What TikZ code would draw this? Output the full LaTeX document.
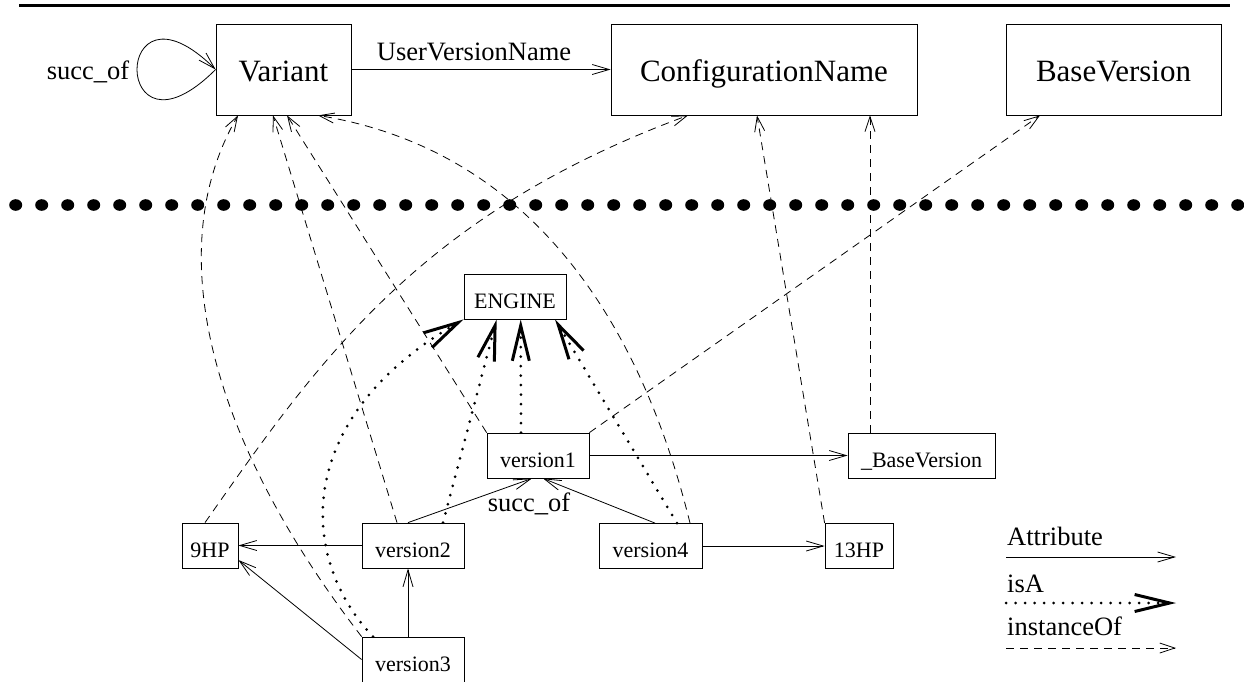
\documentclass[tikz,border=0pt]{standalone}
\usepackage{fontspec}
\setmainfont{Liberation Serif}
\usetikzlibrary{arrows.meta}

\begin{document}
\begin{tikzpicture}[
                x=1pt, y=-1pt, % pixel grid, y runs downwards
                bigbox/.style={rectangle, draw, line width=0.8pt, inner sep=0pt, minimum height=91pt, text height=24pt, text depth=0pt, font=\fontsize{31}{36}\selectfont},
                smallbox/.style={rectangle, draw, line width=0.8pt, inner sep=0pt, minimum height=45pt, text height=23pt, text depth=0pt, font=\fontsize{22}{26}\selectfont},
                lbl/.style={inner sep=0pt, font=\fontsize{26.5}{30}\selectfont},
                attr/.style={draw, line width=0.8pt, -{Straight Barb[length=17pt, width=10pt]}},
                isa/.style={draw, line width=3pt, line cap=round, dash pattern=on 0pt off 9.5pt, -{Straight Barb[length=35pt, width=17pt, line width=3pt]}},
                inst/.style={draw, line width=0.8pt, dash pattern=on 8pt off 6pt, -{Straight Barb[length=15pt, width=10pt]}}
            ]
                \useasboundingbox (0,0) rectangle (1244,681);

                % Rule and separator
                \draw [line width=3pt] (19,5) -- (1230,5);
                \foreach \i in {0,...,47}
                    \fill (15.7+26*\i,205) ellipse [x radius=6.5pt, y radius=5.8pt];

                % Place nodes: schema level
                \node [bigbox, minimum width=135pt] (S_var) at (283.5,69.5) {Variant};
                \node [bigbox, minimum width=306pt] (S_cfg) at (764,69.5) {ConfigurationName};
                \node [bigbox, minimum width=215pt] (S_base) at (1113.5,69.5) {BaseVersion};

                % Place nodes: instance level
                \node [smallbox, minimum width=102pt] (I_engine) at (515,296.5) {ENGINE};
                \node [smallbox, minimum width=102pt] (I_v1) at (538,455.5) {version1};
                \node [smallbox, minimum width=147pt] (I_bv) at (921.5,455.5) {\_BaseVersion};
                \node [smallbox, minimum width=56pt] (I_9hp) at (210,545.5) {9HP};
                \node [smallbox, minimum width=102pt] (I_v2) at (413,545.5) {version2};
                \node [smallbox, minimum width=102pt] (I_v3) at (413,659.5) {version3};
                \node [smallbox, minimum width=103pt] (I_v4) at (650.5,546) {version4};
                \node [smallbox, minimum width=68pt] (I_13hp) at (859,546) {13HP};

                % Labels
                \node [lbl, anchor=base] (L_loop) at (88,79) {succ\_of};
                \node [lbl, anchor=base] (L_uvn) at (474,60) {UserVersionName};
                \node [lbl, anchor=base] (L_succ) at (529,511) {succ\_of};

                % Draw edges: attributes
                \path [attr] (S_var.west) .. controls (111,174) and (111,-34) .. (S_var.west);
                \path [attr] (S_var.east) -- (S_cfg.west);
                \path [attr] (I_v1.east) -- (I_bv.west);
                \path [attr] ([xshift=-5pt]I_v2.north) -- ([xshift=-6pt]I_v1.south);
                \path [attr] ([xshift=4.5pt]I_v4.north) -- ([xshift=5pt]I_v1.south);
                \path [attr] (I_v2.west) -- (I_9hp.east);
                \path [attr] (I_v3.west) -- ([yshift=-14.5pt]I_9hp.east);
                \path [attr] ([xshift=-5pt]I_v3.north) -- ([xshift=-5pt]I_v2.south);
                \path [attr] (I_v4.east) -- (I_13hp.west);

                % Draw edges: isA
                \path [isa] ([xshift=-17pt]I_v1.north) -- ([xshift=5.7pt]I_engine.south);
                \path [isa] ([xshift=30pt]I_v2.north) -- ([xshift=-18.3pt]I_engine.south);
                \path [isa] ([xshift=-40pt]I_v3.north) .. controls (300,560) and (290,420) .. (I_engine.south west);
                \path [isa] ([xshift=26.5pt]I_v4.north) -- ([xshift=40pt]I_engine.south);

                % Draw edges: instanceOf
                \path [inst] (I_v3.north west) .. controls (210,440) and (160,250) .. ([xshift=-45.5pt]S_var.south);
                \path [inst] ([xshift=-16pt]I_v2.north) -- ([xshift=-10.5pt]S_var.south);
                \path [inst] (I_v1.north west) -- ([xshift=3.5pt]S_var.south);
                \path [inst] ([xshift=39.5pt]I_v4.north) .. controls (640,320) and (530,150) .. ([xshift=34.5pt]S_var.south);
                \path [inst] ([xshift=-5pt]I_9hp.north) .. controls (317,363) and (418,215) .. ([xshift=-76pt]S_cfg.south);
                \path [inst] (I_v1.north east) -- ([xshift=-73.5pt]S_base.south);
                \path [inst] ([xshift=-51.5pt]I_bv.north) -- ([xshift=106pt]S_cfg.south);
                \path [inst] (I_13hp.north west) -- ([xshift=-7pt]S_cfg.south);

                % Legend
                \node [lbl, anchor=base west] (K_attr) at (1007,545) {Attribute};
                \node [lbl, anchor=base west] (K_isa) at (1007,592) {isA};
                \node [lbl, anchor=base west] (K_inst) at (1007,635) {instanceOf};
                \coordinate (K_attr_a) at (1006,557);
                \coordinate (K_attr_b) at (1176,557);
                \coordinate (K_isa_a) at (1006,603);
                \coordinate (K_isa_b) at (1176,603);
                \coordinate (K_inst_a) at (1006,648);
                \coordinate (K_inst_b) at (1176,648);
                \path [attr] (K_attr_a) -- (K_attr_b);
                \path [isa] (K_isa_a) -- (K_isa_b);
                \path [inst] (K_inst_a) -- (K_inst_b);

            \end{tikzpicture}
\end{document}
